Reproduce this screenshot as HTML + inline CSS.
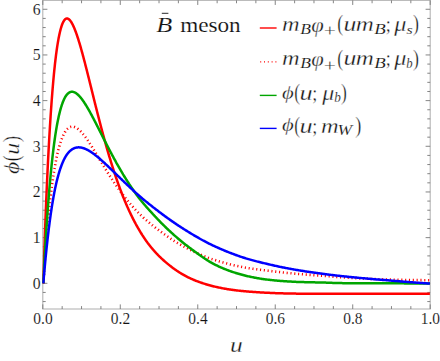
<!DOCTYPE html>
<html><head><meta charset="utf-8"><title>plot</title>
<style>
html,body{margin:0;padding:0;background:#fff;}
body{width:440px;height:361px;overflow:hidden;}
svg{display:block;font-family:"Liberation Serif",serif;}
.tk text{font-size:15.7px;fill:#111;stroke:#fff;stroke-width:0.12px;}
.it{font-style:italic;}
</style></head><body>
<svg width="440" height="361" viewBox="0 0 440 361">
<rect width="440" height="361" fill="#fff"/>
<defs><clipPath id="c"><rect x="42.199999999999996" y="0.35" width="388.5" height="308.65"/></clipPath></defs>

<g stroke="#b4b4b4" stroke-width="1.1" fill="none">
<rect x="42.8" y="0.35" width="387.4" height="308.65"/>
</g>
<g stroke="#777" stroke-width="0.9" fill="none">
<line x1="42.80" y1="309.0" x2="42.80" y2="304.4"/><line x1="42.80" y1="0.35" x2="42.80" y2="4.949999999999999"/><line x1="62.17" y1="309.0" x2="62.17" y2="306.1"/><line x1="62.17" y1="0.35" x2="62.17" y2="3.25"/><line x1="81.54" y1="309.0" x2="81.54" y2="306.1"/><line x1="81.54" y1="0.35" x2="81.54" y2="3.25"/><line x1="100.91" y1="309.0" x2="100.91" y2="306.1"/><line x1="100.91" y1="0.35" x2="100.91" y2="3.25"/><line x1="120.28" y1="309.0" x2="120.28" y2="304.4"/><line x1="120.28" y1="0.35" x2="120.28" y2="4.949999999999999"/><line x1="139.65" y1="309.0" x2="139.65" y2="306.1"/><line x1="139.65" y1="0.35" x2="139.65" y2="3.25"/><line x1="159.02" y1="309.0" x2="159.02" y2="306.1"/><line x1="159.02" y1="0.35" x2="159.02" y2="3.25"/><line x1="178.39" y1="309.0" x2="178.39" y2="306.1"/><line x1="178.39" y1="0.35" x2="178.39" y2="3.25"/><line x1="197.76" y1="309.0" x2="197.76" y2="304.4"/><line x1="197.76" y1="0.35" x2="197.76" y2="4.949999999999999"/><line x1="217.13" y1="309.0" x2="217.13" y2="306.1"/><line x1="217.13" y1="0.35" x2="217.13" y2="3.25"/><line x1="236.50" y1="309.0" x2="236.50" y2="306.1"/><line x1="236.50" y1="0.35" x2="236.50" y2="3.25"/><line x1="255.87" y1="309.0" x2="255.87" y2="306.1"/><line x1="255.87" y1="0.35" x2="255.87" y2="3.25"/><line x1="275.24" y1="309.0" x2="275.24" y2="304.4"/><line x1="275.24" y1="0.35" x2="275.24" y2="4.949999999999999"/><line x1="294.61" y1="309.0" x2="294.61" y2="306.1"/><line x1="294.61" y1="0.35" x2="294.61" y2="3.25"/><line x1="313.98" y1="309.0" x2="313.98" y2="306.1"/><line x1="313.98" y1="0.35" x2="313.98" y2="3.25"/><line x1="333.35" y1="309.0" x2="333.35" y2="306.1"/><line x1="333.35" y1="0.35" x2="333.35" y2="3.25"/><line x1="352.72" y1="309.0" x2="352.72" y2="304.4"/><line x1="352.72" y1="0.35" x2="352.72" y2="4.949999999999999"/><line x1="372.09" y1="309.0" x2="372.09" y2="306.1"/><line x1="372.09" y1="0.35" x2="372.09" y2="3.25"/><line x1="391.46" y1="309.0" x2="391.46" y2="306.1"/><line x1="391.46" y1="0.35" x2="391.46" y2="3.25"/><line x1="410.83" y1="309.0" x2="410.83" y2="306.1"/><line x1="410.83" y1="0.35" x2="410.83" y2="3.25"/><line x1="430.20" y1="309.0" x2="430.20" y2="304.4"/><line x1="430.20" y1="0.35" x2="430.20" y2="4.949999999999999"/><line x1="42.8" y1="301.57" x2="45.699999999999996" y2="301.57"/><line x1="430.2" y1="301.57" x2="427.3" y2="301.57"/><line x1="42.8" y1="292.43" x2="45.699999999999996" y2="292.43"/><line x1="430.2" y1="292.43" x2="427.3" y2="292.43"/><line x1="42.8" y1="283.30" x2="47.4" y2="283.30"/><line x1="430.2" y1="283.30" x2="425.59999999999997" y2="283.30"/><line x1="42.8" y1="274.17" x2="45.699999999999996" y2="274.17"/><line x1="430.2" y1="274.17" x2="427.3" y2="274.17"/><line x1="42.8" y1="265.03" x2="45.699999999999996" y2="265.03"/><line x1="430.2" y1="265.03" x2="427.3" y2="265.03"/><line x1="42.8" y1="255.90" x2="45.699999999999996" y2="255.90"/><line x1="430.2" y1="255.90" x2="427.3" y2="255.90"/><line x1="42.8" y1="246.76" x2="45.699999999999996" y2="246.76"/><line x1="430.2" y1="246.76" x2="427.3" y2="246.76"/><line x1="42.8" y1="237.63" x2="47.4" y2="237.63"/><line x1="430.2" y1="237.63" x2="425.59999999999997" y2="237.63"/><line x1="42.8" y1="228.50" x2="45.699999999999996" y2="228.50"/><line x1="430.2" y1="228.50" x2="427.3" y2="228.50"/><line x1="42.8" y1="219.36" x2="45.699999999999996" y2="219.36"/><line x1="430.2" y1="219.36" x2="427.3" y2="219.36"/><line x1="42.8" y1="210.23" x2="45.699999999999996" y2="210.23"/><line x1="430.2" y1="210.23" x2="427.3" y2="210.23"/><line x1="42.8" y1="201.09" x2="45.699999999999996" y2="201.09"/><line x1="430.2" y1="201.09" x2="427.3" y2="201.09"/><line x1="42.8" y1="191.96" x2="47.4" y2="191.96"/><line x1="430.2" y1="191.96" x2="425.59999999999997" y2="191.96"/><line x1="42.8" y1="182.83" x2="45.699999999999996" y2="182.83"/><line x1="430.2" y1="182.83" x2="427.3" y2="182.83"/><line x1="42.8" y1="173.69" x2="45.699999999999996" y2="173.69"/><line x1="430.2" y1="173.69" x2="427.3" y2="173.69"/><line x1="42.8" y1="164.56" x2="45.699999999999996" y2="164.56"/><line x1="430.2" y1="164.56" x2="427.3" y2="164.56"/><line x1="42.8" y1="155.42" x2="45.699999999999996" y2="155.42"/><line x1="430.2" y1="155.42" x2="427.3" y2="155.42"/><line x1="42.8" y1="146.29" x2="47.4" y2="146.29"/><line x1="430.2" y1="146.29" x2="425.59999999999997" y2="146.29"/><line x1="42.8" y1="137.16" x2="45.699999999999996" y2="137.16"/><line x1="430.2" y1="137.16" x2="427.3" y2="137.16"/><line x1="42.8" y1="128.02" x2="45.699999999999996" y2="128.02"/><line x1="430.2" y1="128.02" x2="427.3" y2="128.02"/><line x1="42.8" y1="118.89" x2="45.699999999999996" y2="118.89"/><line x1="430.2" y1="118.89" x2="427.3" y2="118.89"/><line x1="42.8" y1="109.75" x2="45.699999999999996" y2="109.75"/><line x1="430.2" y1="109.75" x2="427.3" y2="109.75"/><line x1="42.8" y1="100.62" x2="47.4" y2="100.62"/><line x1="430.2" y1="100.62" x2="425.59999999999997" y2="100.62"/><line x1="42.8" y1="91.49" x2="45.699999999999996" y2="91.49"/><line x1="430.2" y1="91.49" x2="427.3" y2="91.49"/><line x1="42.8" y1="82.35" x2="45.699999999999996" y2="82.35"/><line x1="430.2" y1="82.35" x2="427.3" y2="82.35"/><line x1="42.8" y1="73.22" x2="45.699999999999996" y2="73.22"/><line x1="430.2" y1="73.22" x2="427.3" y2="73.22"/><line x1="42.8" y1="64.08" x2="45.699999999999996" y2="64.08"/><line x1="430.2" y1="64.08" x2="427.3" y2="64.08"/><line x1="42.8" y1="54.95" x2="47.4" y2="54.95"/><line x1="430.2" y1="54.95" x2="425.59999999999997" y2="54.95"/><line x1="42.8" y1="45.82" x2="45.699999999999996" y2="45.82"/><line x1="430.2" y1="45.82" x2="427.3" y2="45.82"/><line x1="42.8" y1="36.68" x2="45.699999999999996" y2="36.68"/><line x1="430.2" y1="36.68" x2="427.3" y2="36.68"/><line x1="42.8" y1="27.55" x2="45.699999999999996" y2="27.55"/><line x1="430.2" y1="27.55" x2="427.3" y2="27.55"/><line x1="42.8" y1="18.41" x2="45.699999999999996" y2="18.41"/><line x1="430.2" y1="18.41" x2="427.3" y2="18.41"/><line x1="42.8" y1="9.28" x2="47.4" y2="9.28"/><line x1="430.2" y1="9.28" x2="425.59999999999997" y2="9.28"/>
</g>
<g clip-path="url(#c)" fill="none" stroke-linejoin="round">
<path d="M43.30 283.30 L43.58 274.21 L43.86 265.39 L44.14 256.83 L44.42 248.53 L44.70 240.47 L44.98 232.66 L45.26 225.07 L45.54 217.70 L45.82 210.56 L46.10 203.62 L46.38 196.88 L46.66 190.35 L46.94 184.00 L47.22 177.84 L47.50 171.86 L47.78 166.06 L48.06 160.43 L48.34 154.96 L48.62 149.65 L48.90 144.50 L49.18 139.50 L49.46 134.66 L49.74 129.95 L50.02 125.39 L50.30 120.96 L50.58 116.67 L50.85 112.50 L51.13 108.47 L51.41 104.56 L51.68 100.76 L51.96 97.09 L52.24 93.53 L52.51 90.09 L52.79 86.75 L53.07 83.52 L53.34 80.39 L53.62 77.37 L53.90 74.45 L54.17 71.62 L54.45 68.89 L54.73 66.26 L55.00 63.71 L55.28 61.25 L55.56 58.89 L55.84 56.60 L56.11 54.40 L56.39 52.29 L56.67 50.25 L56.96 48.29 L57.24 46.41 L57.52 44.60 L57.80 42.87 L58.09 41.20 L58.37 39.61 L58.65 38.09 L58.93 36.64 L59.22 35.25 L59.50 33.93 L59.78 32.67 L60.06 31.47 L60.35 30.34 L60.63 29.26 L60.91 28.24 L61.20 27.28 L61.48 26.38 L61.76 25.53 L62.04 24.74 L62.33 24.00 L62.61 23.31 L62.89 22.67 L63.17 22.08 L63.46 21.54 L63.74 21.05 L64.02 20.60 L64.30 20.20 L64.59 19.84 L64.87 19.53 L65.15 19.26 L65.43 19.04 L65.72 18.85 L66.00 18.70 L66.29 18.60 L66.58 18.53 L66.87 18.50 L67.17 18.51 L67.46 18.55 L67.75 18.63 L68.04 18.74 L68.33 18.89 L68.62 19.07 L68.91 19.28 L69.20 19.52 L69.50 19.80 L69.79 20.10 L70.08 20.43 L70.37 20.79 L70.66 21.19 L70.95 21.60 L71.24 22.05 L71.54 22.52 L71.83 23.01 L72.12 23.53 L72.41 24.08 L72.70 24.65 L72.99 25.24 L73.28 25.85 L73.57 26.49 L73.87 27.14 L74.16 27.82 L74.45 28.52 L74.74 29.24 L75.03 29.97 L75.32 30.73 L75.61 31.50 L75.91 32.29 L76.20 33.10 L76.49 33.92 L76.78 34.76 L77.07 35.62 L77.36 36.49 L77.65 37.37 L77.95 38.27 L78.24 39.19 L78.53 40.11 L78.82 41.05 L79.11 42.00 L79.40 42.97 L79.69 43.94 L79.98 44.93 L80.28 45.93 L80.57 46.93 L80.86 47.95 L81.15 48.98 L81.44 50.02 L81.73 51.06 L82.02 52.12 L82.32 53.18 L82.61 54.25 L82.90 55.33 L83.19 56.42 L83.48 57.51 L83.77 58.61 L84.06 59.71 L84.35 60.82 L84.65 61.94 L84.94 63.06 L85.23 64.19 L85.52 65.32 L85.81 66.46 L86.10 67.60 L86.39 68.75 L86.69 69.90 L86.98 71.05 L87.27 72.20 L87.56 73.36 L87.85 74.53 L88.14 75.69 L88.43 76.86 L88.73 78.02 L89.02 79.19 L89.31 80.37 L89.60 81.54 L89.89 82.71 L90.18 83.89 L90.47 85.07 L90.76 86.24 L91.06 87.42 L91.35 88.60 L91.64 89.78 L91.93 90.95 L92.22 92.13 L92.51 93.31 L92.80 94.48 L93.10 95.66 L93.39 96.83 L93.68 98.01 L93.97 99.18 L94.26 100.35 L94.55 101.52 L94.84 102.69 L95.13 103.85 L95.43 105.02 L95.72 106.18 L96.01 107.34 L96.30 108.50 L96.59 109.65 L96.88 110.80 L97.17 111.95 L97.47 113.10 L97.76 114.24 L98.05 115.39 L98.34 116.52 L98.63 117.66 L98.92 118.79 L99.21 119.92 L99.51 121.04 L99.80 122.17 L100.09 123.28 L100.38 124.40 L100.67 125.51 L100.96 126.62 L101.25 127.72 L101.54 128.82 L101.84 129.91 L102.13 131.00 L102.42 132.09 L102.71 133.17 L103.00 134.25 L103.29 135.32 L103.58 136.39 L103.88 137.46 L104.17 138.52 L104.46 139.57 L104.75 140.63 L105.04 141.67 L105.33 142.71 L105.62 143.75 L105.92 144.78 L106.21 145.81 L106.50 146.83 L106.79 147.85 L107.08 148.87 L107.37 149.87 L107.66 150.88 L107.95 151.88 L108.25 152.87 L108.54 153.86 L108.83 154.84 L109.12 155.82 L109.41 156.79 L109.70 157.76 L109.99 158.72 L110.29 159.68 L110.58 160.63 L110.87 161.58 L111.16 162.52 L111.45 163.46 L111.74 164.39 L112.03 165.32 L112.32 166.24 L112.62 167.15 L112.91 168.06 L113.20 168.97 L113.49 169.87 L113.78 170.77 L114.07 171.66 L114.36 172.54 L114.66 173.42 L114.95 174.29 L115.24 175.16 L115.53 176.03 L115.82 176.88 L116.11 177.74 L116.40 178.59 L116.70 179.43 L116.99 180.27 L117.28 181.10 L117.57 181.93 L117.86 182.75 L118.15 183.56 L118.44 184.38 L118.73 185.18 L119.03 185.98 L119.32 186.78 L119.61 187.57 L119.90 188.36 L120.19 189.14 L120.48 189.91 L120.77 190.68 L121.07 191.45 L121.36 192.21 L121.65 192.97 L121.94 193.72 L122.23 194.46 L122.52 195.20 L122.81 195.94 L123.10 196.67 L123.40 197.40 L123.69 198.12 L123.98 198.83 L124.27 199.54 L124.56 200.25 L124.85 200.95 L125.14 201.65 L125.44 202.34 L125.73 203.03 L126.02 203.71 L126.31 204.39 L126.60 205.06 L126.89 205.73 L127.18 206.40 L127.48 207.05 L127.77 207.71 L128.06 208.36 L128.35 209.01 L128.64 209.65 L128.93 210.28 L129.22 210.92 L129.51 211.54 L129.81 212.17 L130.10 212.79 L130.39 213.40 L130.68 214.01 L130.97 214.62 L131.26 215.22 L131.55 215.81 L131.85 216.41 L132.14 217.00 L132.43 217.58 L132.72 218.16 L133.01 218.74 L133.30 219.31 L133.59 219.88 L133.88 220.44 L134.18 221.00 L134.47 221.56 L134.76 222.11 L135.05 222.66 L135.34 223.20 L135.63 223.74 L135.92 224.28 L136.22 224.81 L136.51 225.34 L136.80 225.86 L137.09 226.38 L137.38 226.90 L137.67 227.41 L137.96 227.92 L138.26 228.42 L138.55 228.93 L138.84 229.42 L139.13 229.92 L139.42 230.41 L139.71 230.90 L140.00 231.38 L140.29 231.86 L140.59 232.34 L140.88 232.81 L141.17 233.28 L141.46 233.75 L141.75 234.21 L142.04 234.67 L142.33 235.13 L142.63 235.58 L142.92 236.03 L143.21 236.47 L143.50 236.92 L143.79 237.36 L144.08 237.79 L144.37 238.22 L144.67 238.65 L144.96 239.08 L145.25 239.50 L145.54 239.92 L145.83 240.34 L146.12 240.75 L146.41 241.16 L146.70 241.57 L147.00 241.97 L147.29 242.37 L147.58 242.76 L147.87 243.16 L148.16 243.54 L148.45 243.93 L148.74 244.31 L149.04 244.69 L149.33 245.07 L149.62 245.44 L149.91 245.81 L150.20 246.18 L150.49 246.54 L150.78 246.90 L151.07 247.26 L151.37 247.61 L151.66 247.97 L151.95 248.32 L152.24 248.66 L152.53 249.01 L152.82 249.35 L153.11 249.69 L153.41 250.02 L153.70 250.35 L153.99 250.68 L154.28 251.01 L154.57 251.34 L154.86 251.66 L155.15 251.98 L155.45 252.30 L155.74 252.61 L156.03 252.93 L156.32 253.24 L156.61 253.55 L156.90 253.85 L157.19 254.16 L157.48 254.46 L157.78 254.76 L158.07 255.06 L158.36 255.35 L158.65 255.65 L159.56 256.55 L160.46 257.43 L161.37 258.29 L162.28 259.14 L163.19 259.97 L164.09 260.79 L165.00 261.59 L165.91 262.38 L166.81 263.15 L167.72 263.91 L168.63 264.65 L169.54 265.38 L170.44 266.10 L171.35 266.80 L172.26 267.48 L173.17 268.16 L174.07 268.81 L174.98 269.46 L175.89 270.09 L176.79 270.71 L177.70 271.31 L178.61 271.91 L179.52 272.48 L180.42 273.05 L181.33 273.60 L182.24 274.14 L183.14 274.66 L184.05 275.18 L184.96 275.68 L185.87 276.16 L186.77 276.64 L187.68 277.10 L188.59 277.54 L189.49 277.98 L190.40 278.40 L191.31 278.81 L192.22 279.21 L193.12 279.60 L194.03 279.99 L194.94 280.36 L195.84 280.73 L196.75 281.08 L197.66 281.43 L198.57 281.77 L199.47 282.10 L200.38 282.43 L201.29 282.74 L202.20 283.05 L203.10 283.35 L204.01 283.65 L204.92 283.93 L205.82 284.21 L206.73 284.48 L207.64 284.75 L208.55 285.01 L209.45 285.26 L210.36 285.51 L211.27 285.75 L212.17 285.98 L213.08 286.21 L213.99 286.43 L214.90 286.65 L215.80 286.86 L216.71 287.07 L217.62 287.27 L218.52 287.46 L219.43 287.65 L220.34 287.84 L221.25 288.02 L222.15 288.19 L223.06 288.36 L223.97 288.53 L224.87 288.69 L225.78 288.85 L226.69 289.00 L227.60 289.15 L228.50 289.29 L229.41 289.43 L230.32 289.57 L231.23 289.70 L232.13 289.83 L233.04 289.96 L233.95 290.08 L234.85 290.20 L235.76 290.31 L236.67 290.42 L237.58 290.53 L238.48 290.63 L239.39 290.74 L240.30 290.83 L241.20 290.93 L242.11 291.02 L243.02 291.11 L243.93 291.20 L244.83 291.28 L245.74 291.36 L246.65 291.44 L247.55 291.52 L248.46 291.59 L249.37 291.66 L250.28 291.73 L251.18 291.80 L252.09 291.87 L253.00 291.93 L253.91 291.99 L254.81 292.05 L255.72 292.11 L256.63 292.17 L257.53 292.23 L258.44 292.29 L259.35 292.34 L260.26 292.39 L261.16 292.45 L262.07 292.50 L262.98 292.55 L263.88 292.60 L264.79 292.64 L265.70 292.69 L266.61 292.74 L267.51 292.78 L268.42 292.82 L269.33 292.86 L270.23 292.90 L271.14 292.94 L272.05 292.98 L272.96 293.02 L273.86 293.06 L274.77 293.09 L275.68 293.13 L276.58 293.16 L277.49 293.19 L278.40 293.22 L279.31 293.25 L280.21 293.28 L281.12 293.31 L282.03 293.34 L282.94 293.36 L283.84 293.39 L284.75 293.41 L285.66 293.43 L286.56 293.46 L287.47 293.48 L288.38 293.50 L289.29 293.52 L290.19 293.53 L291.10 293.55 L292.01 293.57 L292.91 293.58 L293.82 293.59 L294.73 293.61 L295.64 293.62 L296.54 293.63 L297.45 293.64 L298.36 293.64 L299.26 293.65 L300.17 293.66 L301.08 293.66 L301.99 293.67 L302.89 293.67 L303.80 293.68 L304.71 293.68 L305.61 293.68 L306.52 293.68 L307.43 293.69 L308.34 293.69 L309.24 293.69 L310.15 293.69 L311.06 293.69 L311.97 293.69 L312.87 293.69 L313.78 293.69 L314.69 293.69 L315.59 293.69 L316.50 293.69 L317.41 293.69 L318.32 293.69 L319.22 293.69 L320.13 293.69 L321.04 293.69 L321.94 293.68 L322.85 293.68 L323.76 293.68 L324.67 293.68 L325.57 293.68 L326.48 293.68 L327.39 293.68 L328.29 293.67 L329.20 293.67 L330.11 293.67 L331.02 293.67 L331.92 293.67 L332.83 293.67 L333.74 293.67 L334.64 293.66 L335.55 293.66 L336.46 293.66 L337.37 293.66 L338.27 293.66 L339.18 293.66 L340.09 293.66 L341.00 293.66 L341.90 293.66 L342.81 293.66 L343.72 293.66 L344.62 293.66 L345.53 293.66 L346.44 293.66 L347.35 293.66 L348.25 293.66 L349.16 293.66 L350.07 293.66 L350.97 293.65 L351.88 293.65 L352.79 293.65 L353.70 293.65 L354.60 293.65 L355.51 293.65 L356.42 293.65 L357.32 293.65 L358.23 293.65 L359.14 293.65 L360.05 293.65 L360.95 293.65 L361.86 293.65 L362.77 293.65 L363.68 293.65 L364.58 293.65 L365.49 293.65 L366.40 293.65 L367.30 293.65 L368.21 293.66 L369.12 293.66 L370.03 293.66 L370.93 293.66 L371.84 293.66 L372.75 293.66 L373.65 293.66 L374.56 293.66 L375.47 293.66 L376.38 293.67 L377.28 293.67 L378.19 293.67 L379.10 293.67 L380.00 293.67 L380.91 293.67 L381.82 293.68 L382.73 293.68 L383.63 293.68 L384.54 293.68 L385.45 293.68 L386.35 293.68 L387.26 293.68 L388.17 293.68 L389.08 293.68 L389.98 293.69 L390.89 293.69 L391.80 293.69 L392.71 293.69 L393.61 293.68 L394.52 293.68 L395.43 293.68 L396.33 293.68 L397.24 293.68 L398.15 293.68 L399.06 293.68 L399.96 293.68 L400.87 293.67 L401.78 293.67 L402.68 293.67 L403.59 293.67 L404.50 293.67 L405.41 293.67 L406.31 293.67 L407.22 293.67 L408.13 293.68 L409.03 293.68 L409.94 293.68 L410.85 293.68 L411.76 293.68 L412.66 293.69 L413.57 293.69 L414.48 293.69 L415.38 293.69 L416.29 293.69 L417.20 293.69 L418.11 293.69 L419.01 293.69 L419.92 293.69 L420.83 293.69 L421.74 293.69 L422.64 293.69 L423.55 293.69 L424.46 293.69 L425.36 293.68 L426.27 293.68 L427.18 293.68 L428.09 293.68 L428.99 293.68 L429.90 293.68" stroke="#ff0000" stroke-width="2.5"/>
<path d="M43.30 283.30 L43.58 278.77 L43.86 274.36 L44.14 270.07 L44.42 265.89 L44.70 261.83 L44.98 257.87 L45.26 254.02 L45.54 250.26 L45.82 246.60 L46.10 243.04 L46.38 239.57 L46.66 236.18 L46.94 232.88 L47.22 229.67 L47.50 226.53 L47.78 223.48 L48.06 220.50 L48.34 217.59 L48.62 214.76 L48.90 211.99 L49.18 209.30 L49.46 206.67 L49.74 204.10 L50.02 201.60 L50.30 199.16 L50.58 196.78 L50.85 194.46 L51.13 192.20 L51.41 189.99 L51.68 187.83 L51.96 185.73 L52.24 183.69 L52.51 181.69 L52.79 179.74 L53.07 177.85 L53.34 176.00 L53.62 174.20 L53.90 172.44 L54.17 170.73 L54.45 169.06 L54.73 167.44 L55.00 165.86 L55.28 164.32 L55.56 162.82 L55.84 161.36 L56.11 159.94 L56.39 158.57 L56.67 157.22 L56.96 155.92 L57.24 154.65 L57.52 153.42 L57.80 152.22 L58.09 151.06 L58.37 149.93 L58.65 148.84 L58.93 147.78 L59.22 146.75 L59.50 145.76 L59.78 144.79 L60.06 143.86 L60.35 142.95 L60.63 142.08 L60.91 141.23 L61.20 140.42 L61.48 139.63 L61.76 138.87 L62.04 138.14 L62.33 137.43 L62.61 136.76 L62.89 136.10 L63.17 135.48 L63.46 134.87 L63.74 134.30 L64.02 133.75 L64.30 133.22 L64.59 132.71 L64.87 132.23 L65.15 131.77 L65.43 131.33 L65.72 130.92 L66.00 130.53 L66.29 130.15 L66.58 129.80 L66.87 129.47 L67.17 129.16 L67.46 128.87 L67.75 128.60 L68.04 128.35 L68.33 128.11 L68.62 127.90 L68.91 127.70 L69.20 127.52 L69.50 127.36 L69.79 127.22 L70.08 127.09 L70.37 126.98 L70.66 126.88 L70.95 126.80 L71.24 126.74 L71.54 126.69 L71.83 126.66 L72.12 126.64 L72.41 126.63 L72.70 126.64 L72.99 126.66 L73.28 126.70 L73.57 126.75 L73.87 126.81 L74.16 126.89 L74.45 126.98 L74.74 127.08 L75.03 127.19 L75.32 127.31 L75.61 127.45 L75.91 127.60 L76.20 127.75 L76.49 127.92 L76.78 128.10 L77.07 128.29 L77.36 128.49 L77.65 128.70 L77.95 128.91 L78.24 129.14 L78.53 129.38 L78.82 129.62 L79.11 129.88 L79.40 130.14 L79.69 130.41 L79.98 130.69 L80.28 130.97 L80.57 131.27 L80.86 131.57 L81.15 131.88 L81.44 132.19 L81.73 132.51 L82.02 132.84 L82.32 133.18 L82.61 133.52 L82.90 133.87 L83.19 134.22 L83.48 134.58 L83.77 134.94 L84.06 135.32 L84.35 135.69 L84.65 136.07 L84.94 136.46 L85.23 136.85 L85.52 137.24 L85.81 137.64 L86.10 138.05 L86.39 138.46 L86.69 138.87 L86.98 139.28 L87.27 139.70 L87.56 140.13 L87.85 140.55 L88.14 140.99 L88.43 141.42 L88.73 141.86 L89.02 142.30 L89.31 142.74 L89.60 143.18 L89.89 143.63 L90.18 144.08 L90.47 144.54 L90.76 144.99 L91.06 145.45 L91.35 145.91 L91.64 146.37 L91.93 146.83 L92.22 147.30 L92.51 147.77 L92.80 148.24 L93.10 148.71 L93.39 149.18 L93.68 149.65 L93.97 150.13 L94.26 150.60 L94.55 151.08 L94.84 151.55 L95.13 152.03 L95.43 152.51 L95.72 152.99 L96.01 153.47 L96.30 153.95 L96.59 154.44 L96.88 154.92 L97.17 155.40 L97.47 155.88 L97.76 156.37 L98.05 156.85 L98.34 157.33 L98.63 157.82 L98.92 158.30 L99.21 158.78 L99.51 159.27 L99.80 159.75 L100.09 160.23 L100.38 160.71 L100.67 161.20 L100.96 161.68 L101.25 162.16 L101.54 162.64 L101.84 163.12 L102.13 163.60 L102.42 164.08 L102.71 164.56 L103.00 165.04 L103.29 165.52 L103.58 165.99 L103.88 166.47 L104.17 166.94 L104.46 167.42 L104.75 167.89 L105.04 168.36 L105.33 168.83 L105.62 169.30 L105.92 169.77 L106.21 170.24 L106.50 170.71 L106.79 171.18 L107.08 171.64 L107.37 172.10 L107.66 172.57 L107.95 173.03 L108.25 173.49 L108.54 173.95 L108.83 174.40 L109.12 174.86 L109.41 175.32 L109.70 175.77 L109.99 176.22 L110.29 176.67 L110.58 177.12 L110.87 177.57 L111.16 178.02 L111.45 178.46 L111.74 178.90 L112.03 179.35 L112.32 179.79 L112.62 180.23 L112.91 180.66 L113.20 181.10 L113.49 181.54 L113.78 181.97 L114.07 182.40 L114.36 182.83 L114.66 183.26 L114.95 183.69 L115.24 184.11 L115.53 184.54 L115.82 184.96 L116.11 185.38 L116.40 185.80 L116.70 186.21 L116.99 186.63 L117.28 187.04 L117.57 187.46 L117.86 187.87 L118.15 188.28 L118.44 188.68 L118.73 189.09 L119.03 189.49 L119.32 189.90 L119.61 190.30 L119.90 190.70 L120.19 191.10 L120.48 191.49 L120.77 191.89 L121.07 192.28 L121.36 192.67 L121.65 193.06 L121.94 193.45 L122.23 193.83 L122.52 194.22 L122.81 194.60 L123.10 194.98 L123.40 195.36 L123.69 195.74 L123.98 196.12 L124.27 196.49 L124.56 196.87 L124.85 197.24 L125.14 197.61 L125.44 197.98 L125.73 198.34 L126.02 198.71 L126.31 199.07 L126.60 199.44 L126.89 199.80 L127.18 200.16 L127.48 200.51 L127.77 200.87 L128.06 201.22 L128.35 201.58 L128.64 201.93 L128.93 202.28 L129.22 202.62 L129.51 202.97 L129.81 203.32 L130.10 203.66 L130.39 204.00 L130.68 204.34 L130.97 204.68 L131.26 205.02 L131.55 205.35 L131.85 205.69 L132.14 206.02 L132.43 206.35 L132.72 206.68 L133.01 207.01 L133.30 207.34 L133.59 207.66 L133.88 207.99 L134.18 208.31 L134.47 208.63 L134.76 208.95 L135.05 209.27 L135.34 209.58 L135.63 209.90 L135.92 210.21 L136.22 210.52 L136.51 210.83 L136.80 211.14 L137.09 211.44 L137.38 211.74 L137.67 212.04 L137.96 212.34 L138.26 212.64 L138.55 212.93 L138.84 213.23 L139.13 213.52 L139.42 213.81 L139.71 214.10 L140.00 214.38 L140.29 214.67 L140.59 214.95 L140.88 215.23 L141.17 215.51 L141.46 215.79 L141.75 216.07 L142.04 216.34 L142.33 216.61 L142.63 216.89 L142.92 217.16 L143.21 217.43 L143.50 217.69 L143.79 217.96 L144.08 218.22 L144.37 218.49 L144.67 218.75 L144.96 219.01 L145.25 219.27 L145.54 219.53 L145.83 219.78 L146.12 220.04 L146.41 220.29 L146.70 220.54 L147.00 220.80 L147.29 221.05 L147.58 221.29 L147.87 221.54 L148.16 221.79 L148.45 222.04 L148.74 222.28 L149.04 222.52 L149.33 222.77 L149.62 223.01 L149.91 223.25 L150.20 223.49 L150.49 223.73 L150.78 223.96 L151.07 224.20 L151.37 224.44 L151.66 224.67 L151.95 224.91 L152.24 225.14 L152.53 225.37 L152.82 225.60 L153.11 225.84 L153.41 226.07 L153.70 226.30 L153.99 226.52 L154.28 226.75 L154.57 226.98 L154.86 227.21 L155.15 227.43 L155.45 227.66 L155.74 227.88 L156.03 228.11 L156.32 228.33 L156.61 228.56 L156.90 228.78 L157.19 229.00 L157.48 229.22 L157.78 229.45 L158.07 229.67 L158.36 229.89 L158.65 230.11 L159.56 230.79 L160.46 231.47 L161.37 232.14 L162.28 232.81 L163.19 233.47 L164.09 234.12 L165.00 234.76 L165.91 235.40 L166.81 236.03 L167.72 236.65 L168.63 237.26 L169.54 237.87 L170.44 238.47 L171.35 239.06 L172.26 239.65 L173.17 240.23 L174.07 240.80 L174.98 241.36 L175.89 241.92 L176.79 242.47 L177.70 243.01 L178.61 243.55 L179.52 244.08 L180.42 244.60 L181.33 245.12 L182.24 245.63 L183.14 246.13 L184.05 246.63 L184.96 247.11 L185.87 247.60 L186.77 248.08 L187.68 248.55 L188.59 249.02 L189.49 249.48 L190.40 249.94 L191.31 250.39 L192.22 250.84 L193.12 251.28 L194.03 251.72 L194.94 252.15 L195.84 252.58 L196.75 253.00 L197.66 253.41 L198.57 253.82 L199.47 254.22 L200.38 254.61 L201.29 255.00 L202.20 255.39 L203.10 255.76 L204.01 256.13 L204.92 256.49 L205.82 256.85 L206.73 257.19 L207.64 257.53 L208.55 257.87 L209.45 258.19 L210.36 258.51 L211.27 258.82 L212.17 259.13 L213.08 259.43 L213.99 259.73 L214.90 260.03 L215.80 260.32 L216.71 260.60 L217.62 260.88 L218.52 261.16 L219.43 261.43 L220.34 261.70 L221.25 261.97 L222.15 262.23 L223.06 262.48 L223.97 262.73 L224.87 262.98 L225.78 263.23 L226.69 263.47 L227.60 263.71 L228.50 263.94 L229.41 264.17 L230.32 264.40 L231.23 264.62 L232.13 264.84 L233.04 265.06 L233.95 265.27 L234.85 265.48 L235.76 265.68 L236.67 265.89 L237.58 266.09 L238.48 266.28 L239.39 266.48 L240.30 266.67 L241.20 266.85 L242.11 267.03 L243.02 267.21 L243.93 267.38 L244.83 267.54 L245.74 267.70 L246.65 267.85 L247.55 268.00 L248.46 268.15 L249.37 268.29 L250.28 268.42 L251.18 268.56 L252.09 268.69 L253.00 268.82 L253.91 268.94 L254.81 269.06 L255.72 269.18 L256.63 269.30 L257.53 269.42 L258.44 269.53 L259.35 269.65 L260.26 269.76 L261.16 269.87 L262.07 269.98 L262.98 270.09 L263.88 270.20 L264.79 270.31 L265.70 270.42 L266.61 270.53 L267.51 270.65 L268.42 270.76 L269.33 270.87 L270.23 270.99 L271.14 271.10 L272.05 271.22 L272.96 271.33 L273.86 271.44 L274.77 271.55 L275.68 271.66 L276.58 271.76 L277.49 271.87 L278.40 271.97 L279.31 272.07 L280.21 272.17 L281.12 272.27 L282.03 272.37 L282.94 272.47 L283.84 272.56 L284.75 272.66 L285.66 272.75 L286.56 272.84 L287.47 272.93 L288.38 273.02 L289.29 273.11 L290.19 273.20 L291.10 273.28 L292.01 273.37 L292.91 273.45 L293.82 273.54 L294.73 273.62 L295.64 273.70 L296.54 273.78 L297.45 273.86 L298.36 273.94 L299.26 274.02 L300.17 274.10 L301.08 274.17 L301.99 274.25 L302.89 274.32 L303.80 274.40 L304.71 274.47 L305.61 274.54 L306.52 274.61 L307.43 274.68 L308.34 274.75 L309.24 274.82 L310.15 274.89 L311.06 274.96 L311.97 275.03 L312.87 275.09 L313.78 275.16 L314.69 275.22 L315.59 275.29 L316.50 275.35 L317.41 275.42 L318.32 275.48 L319.22 275.54 L320.13 275.60 L321.04 275.67 L321.94 275.73 L322.85 275.80 L323.76 275.87 L324.67 275.94 L325.57 276.01 L326.48 276.08 L327.39 276.15 L328.29 276.23 L329.20 276.30 L330.11 276.37 L331.02 276.45 L331.92 276.52 L332.83 276.59 L333.74 276.66 L334.64 276.74 L335.55 276.81 L336.46 276.87 L337.37 276.94 L338.27 277.01 L339.18 277.07 L340.09 277.13 L341.00 277.19 L341.90 277.25 L342.81 277.31 L343.72 277.37 L344.62 277.43 L345.53 277.49 L346.44 277.54 L347.35 277.60 L348.25 277.66 L349.16 277.71 L350.07 277.77 L350.97 277.82 L351.88 277.88 L352.79 277.93 L353.70 277.99 L354.60 278.04 L355.51 278.09 L356.42 278.14 L357.32 278.19 L358.23 278.25 L359.14 278.30 L360.05 278.35 L360.95 278.39 L361.86 278.44 L362.77 278.49 L363.68 278.54 L364.58 278.58 L365.49 278.63 L366.40 278.67 L367.30 278.72 L368.21 278.76 L369.12 278.80 L370.03 278.85 L370.93 278.89 L371.84 278.93 L372.75 278.97 L373.65 279.01 L374.56 279.04 L375.47 279.08 L376.38 279.12 L377.28 279.15 L378.19 279.19 L379.10 279.22 L380.00 279.25 L380.91 279.28 L381.82 279.32 L382.73 279.35 L383.63 279.38 L384.54 279.41 L385.45 279.44 L386.35 279.47 L387.26 279.49 L388.17 279.52 L389.08 279.55 L389.98 279.58 L390.89 279.60 L391.80 279.63 L392.71 279.65 L393.61 279.68 L394.52 279.70 L395.43 279.73 L396.33 279.75 L397.24 279.77 L398.15 279.80 L399.06 279.82 L399.96 279.84 L400.87 279.86 L401.78 279.88 L402.68 279.90 L403.59 279.92 L404.50 279.93 L405.41 279.95 L406.31 279.97 L407.22 279.99 L408.13 280.00 L409.03 280.02 L409.94 280.03 L410.85 280.05 L411.76 280.06 L412.66 280.07 L413.57 280.08 L414.48 280.10 L415.38 280.11 L416.29 280.12 L417.20 280.13 L418.11 280.14 L419.01 280.14 L419.92 280.15 L420.83 280.16 L421.74 280.17 L422.64 280.17 L423.55 280.18 L424.46 280.18 L425.36 280.18 L426.27 280.19 L427.18 280.19 L428.09 280.19 L428.99 280.19 L429.90 280.19" stroke="#ff0000" stroke-width="2.6" stroke-dasharray="1.1 2.73"/>
<path d="M43.30 283.30 L43.58 277.77 L43.86 272.38 L44.14 267.11 L44.42 261.97 L44.70 256.95 L44.98 252.05 L45.26 247.27 L45.54 242.60 L45.82 238.04 L46.10 233.60 L46.38 229.26 L46.66 225.02 L46.94 220.89 L47.22 216.86 L47.50 212.93 L47.78 209.09 L48.06 205.35 L48.34 201.70 L48.62 198.14 L48.90 194.67 L49.18 191.28 L49.46 187.98 L49.74 184.76 L50.02 181.63 L50.30 178.57 L50.58 175.59 L50.85 172.69 L51.13 169.86 L51.41 167.11 L51.68 164.42 L51.96 161.81 L52.24 159.27 L52.51 156.79 L52.79 154.38 L53.07 152.03 L53.34 149.75 L53.62 147.53 L53.90 145.37 L54.17 143.27 L54.45 141.23 L54.73 139.24 L55.00 137.32 L55.28 135.44 L55.56 133.62 L55.84 131.85 L56.11 130.14 L56.39 128.47 L56.67 126.86 L56.96 125.29 L57.24 123.77 L57.52 122.30 L57.80 120.87 L58.09 119.49 L58.37 118.15 L58.65 116.85 L58.93 115.60 L59.22 114.39 L59.50 113.21 L59.78 112.08 L60.06 110.99 L60.35 109.94 L60.63 108.92 L60.91 107.94 L61.20 106.99 L61.48 106.08 L61.76 105.21 L62.04 104.37 L62.33 103.56 L62.61 102.78 L62.89 102.04 L63.17 101.33 L63.46 100.65 L63.74 100.00 L64.02 99.37 L64.30 98.78 L64.59 98.21 L64.87 97.68 L65.15 97.17 L65.43 96.68 L65.72 96.22 L66.00 95.79 L66.29 95.38 L66.58 95.00 L66.87 94.64 L67.17 94.31 L67.46 93.99 L67.75 93.71 L68.04 93.44 L68.33 93.19 L68.62 92.97 L68.91 92.76 L69.20 92.58 L69.50 92.42 L69.79 92.27 L70.08 92.15 L70.37 92.04 L70.66 91.95 L70.95 91.88 L71.24 91.83 L71.54 91.80 L71.83 91.78 L72.12 91.78 L72.41 91.79 L72.70 91.82 L72.99 91.87 L73.28 91.93 L73.57 92.00 L73.87 92.09 L74.16 92.20 L74.45 92.31 L74.74 92.45 L75.03 92.59 L75.32 92.75 L75.61 92.92 L75.91 93.10 L76.20 93.30 L76.49 93.50 L76.78 93.72 L77.07 93.95 L77.36 94.19 L77.65 94.45 L77.95 94.71 L78.24 94.98 L78.53 95.26 L78.82 95.55 L79.11 95.86 L79.40 96.17 L79.69 96.49 L79.98 96.82 L80.28 97.16 L80.57 97.50 L80.86 97.86 L81.15 98.22 L81.44 98.59 L81.73 98.97 L82.02 99.36 L82.32 99.75 L82.61 100.15 L82.90 100.56 L83.19 100.97 L83.48 101.39 L83.77 101.82 L84.06 102.25 L84.35 102.69 L84.65 103.13 L84.94 103.58 L85.23 104.04 L85.52 104.50 L85.81 104.97 L86.10 105.44 L86.39 105.92 L86.69 106.40 L86.98 106.88 L87.27 107.37 L87.56 107.87 L87.85 108.36 L88.14 108.87 L88.43 109.37 L88.73 109.88 L89.02 110.40 L89.31 110.92 L89.60 111.44 L89.89 111.96 L90.18 112.49 L90.47 113.02 L90.76 113.55 L91.06 114.09 L91.35 114.63 L91.64 115.17 L91.93 115.71 L92.22 116.26 L92.51 116.81 L92.80 117.36 L93.10 117.91 L93.39 118.46 L93.68 119.02 L93.97 119.58 L94.26 120.14 L94.55 120.70 L94.84 121.26 L95.13 121.83 L95.43 122.39 L95.72 122.96 L96.01 123.53 L96.30 124.10 L96.59 124.67 L96.88 125.24 L97.17 125.81 L97.47 126.39 L97.76 126.96 L98.05 127.53 L98.34 128.11 L98.63 128.68 L98.92 129.26 L99.21 129.84 L99.51 130.41 L99.80 130.99 L100.09 131.57 L100.38 132.14 L100.67 132.72 L100.96 133.30 L101.25 133.87 L101.54 134.45 L101.84 135.03 L102.13 135.60 L102.42 136.18 L102.71 136.76 L103.00 137.33 L103.29 137.91 L103.58 138.48 L103.88 139.06 L104.17 139.63 L104.46 140.21 L104.75 140.78 L105.04 141.35 L105.33 141.92 L105.62 142.49 L105.92 143.06 L106.21 143.63 L106.50 144.20 L106.79 144.77 L107.08 145.33 L107.37 145.90 L107.66 146.46 L107.95 147.02 L108.25 147.59 L108.54 148.15 L108.83 148.71 L109.12 149.27 L109.41 149.82 L109.70 150.38 L109.99 150.94 L110.29 151.49 L110.58 152.04 L110.87 152.59 L111.16 153.14 L111.45 153.69 L111.74 154.24 L112.03 154.79 L112.32 155.33 L112.62 155.87 L112.91 156.42 L113.20 156.96 L113.49 157.50 L113.78 158.03 L114.07 158.57 L114.36 159.10 L114.66 159.63 L114.95 160.17 L115.24 160.70 L115.53 161.22 L115.82 161.75 L116.11 162.27 L116.40 162.80 L116.70 163.32 L116.99 163.84 L117.28 164.36 L117.57 164.87 L117.86 165.39 L118.15 165.90 L118.44 166.41 L118.73 166.92 L119.03 167.43 L119.32 167.94 L119.61 168.44 L119.90 168.94 L120.19 169.44 L120.48 169.94 L120.77 170.44 L121.07 170.94 L121.36 171.43 L121.65 171.92 L121.94 172.41 L122.23 172.90 L122.52 173.39 L122.81 173.87 L123.10 174.36 L123.40 174.84 L123.69 175.32 L123.98 175.80 L124.27 176.27 L124.56 176.75 L124.85 177.22 L125.14 177.69 L125.44 178.16 L125.73 178.63 L126.02 179.09 L126.31 179.55 L126.60 180.02 L126.89 180.48 L127.18 180.93 L127.48 181.39 L127.77 181.85 L128.06 182.30 L128.35 182.75 L128.64 183.20 L128.93 183.65 L129.22 184.09 L129.51 184.54 L129.81 184.98 L130.10 185.42 L130.39 185.86 L130.68 186.30 L130.97 186.73 L131.26 187.17 L131.55 187.60 L131.85 188.03 L132.14 188.46 L132.43 188.88 L132.72 189.31 L133.01 189.73 L133.30 190.15 L133.59 190.57 L133.88 190.99 L134.18 191.41 L134.47 191.83 L134.76 192.24 L135.05 192.65 L135.34 193.06 L135.63 193.47 L135.92 193.87 L136.22 194.27 L136.51 194.67 L136.80 195.06 L137.09 195.46 L137.38 195.85 L137.67 196.23 L137.96 196.62 L138.26 197.00 L138.55 197.38 L138.84 197.76 L139.13 198.14 L139.42 198.51 L139.71 198.88 L140.00 199.25 L140.29 199.61 L140.59 199.98 L140.88 200.34 L141.17 200.70 L141.46 201.06 L141.75 201.42 L142.04 201.77 L142.33 202.12 L142.63 202.47 L142.92 202.82 L143.21 203.17 L143.50 203.52 L143.79 203.86 L144.08 204.20 L144.37 204.54 L144.67 204.88 L144.96 205.22 L145.25 205.56 L145.54 205.89 L145.83 206.23 L146.12 206.56 L146.41 206.89 L146.70 207.22 L147.00 207.55 L147.29 207.88 L147.58 208.21 L147.87 208.53 L148.16 208.86 L148.45 209.18 L148.74 209.51 L149.04 209.83 L149.33 210.15 L149.62 210.47 L149.91 210.79 L150.20 211.11 L150.49 211.43 L150.78 211.75 L151.07 212.07 L151.37 212.39 L151.66 212.70 L151.95 213.02 L152.24 213.34 L152.53 213.65 L152.82 213.97 L153.11 214.29 L153.41 214.60 L153.70 214.92 L153.99 215.23 L154.28 215.55 L154.57 215.86 L154.86 216.18 L155.15 216.50 L155.45 216.81 L155.74 217.13 L156.03 217.44 L156.32 217.75 L156.61 218.06 L156.90 218.37 L157.19 218.68 L157.48 218.99 L157.78 219.30 L158.07 219.60 L158.36 219.91 L158.65 220.21 L159.56 221.15 L160.46 222.09 L161.37 223.01 L162.28 223.93 L163.19 224.83 L164.09 225.73 L165.00 226.62 L165.91 227.50 L166.81 228.37 L167.72 229.24 L168.63 230.09 L169.54 230.94 L170.44 231.78 L171.35 232.61 L172.26 233.44 L173.17 234.25 L174.07 235.06 L174.98 235.86 L175.89 236.65 L176.79 237.43 L177.70 238.21 L178.61 238.98 L179.52 239.74 L180.42 240.50 L181.33 241.25 L182.24 241.99 L183.14 242.73 L184.05 243.45 L184.96 244.18 L185.87 244.89 L186.77 245.60 L187.68 246.30 L188.59 247.00 L189.49 247.69 L190.40 248.37 L191.31 249.05 L192.22 249.72 L193.12 250.38 L194.03 251.04 L194.94 251.69 L195.84 252.34 L196.75 252.99 L197.66 253.64 L198.57 254.29 L199.47 254.93 L200.38 255.57 L201.29 256.21 L202.20 256.84 L203.10 257.47 L204.01 258.08 L204.92 258.69 L205.82 259.29 L206.73 259.88 L207.64 260.46 L208.55 261.03 L209.45 261.58 L210.36 262.12 L211.27 262.64 L212.17 263.15 L213.08 263.64 L213.99 264.11 L214.90 264.58 L215.80 265.03 L216.71 265.48 L217.62 265.92 L218.52 266.34 L219.43 266.76 L220.34 267.17 L221.25 267.57 L222.15 267.96 L223.06 268.35 L223.97 268.72 L224.87 269.09 L225.78 269.45 L226.69 269.80 L227.60 270.15 L228.50 270.49 L229.41 270.82 L230.32 271.14 L231.23 271.46 L232.13 271.78 L233.04 272.08 L233.95 272.39 L234.85 272.68 L235.76 272.97 L236.67 273.26 L237.58 273.54 L238.48 273.81 L239.39 274.07 L240.30 274.32 L241.20 274.57 L242.11 274.82 L243.02 275.06 L243.93 275.29 L244.83 275.51 L245.74 275.73 L246.65 275.95 L247.55 276.16 L248.46 276.36 L249.37 276.56 L250.28 276.76 L251.18 276.95 L252.09 277.13 L253.00 277.31 L253.91 277.49 L254.81 277.67 L255.72 277.84 L256.63 278.00 L257.53 278.16 L258.44 278.31 L259.35 278.46 L260.26 278.61 L261.16 278.75 L262.07 278.89 L262.98 279.02 L263.88 279.15 L264.79 279.27 L265.70 279.39 L266.61 279.51 L267.51 279.62 L268.42 279.73 L269.33 279.83 L270.23 279.94 L271.14 280.04 L272.05 280.13 L272.96 280.23 L273.86 280.32 L274.77 280.41 L275.68 280.49 L276.58 280.58 L277.49 280.66 L278.40 280.74 L279.31 280.82 L280.21 280.90 L281.12 280.97 L282.03 281.04 L282.94 281.11 L283.84 281.18 L284.75 281.24 L285.66 281.30 L286.56 281.36 L287.47 281.42 L288.38 281.47 L289.29 281.53 L290.19 281.58 L291.10 281.62 L292.01 281.67 L292.91 281.72 L293.82 281.76 L294.73 281.80 L295.64 281.84 L296.54 281.88 L297.45 281.91 L298.36 281.95 L299.26 281.98 L300.17 282.01 L301.08 282.04 L301.99 282.07 L302.89 282.10 L303.80 282.12 L304.71 282.15 L305.61 282.17 L306.52 282.20 L307.43 282.22 L308.34 282.24 L309.24 282.26 L310.15 282.28 L311.06 282.30 L311.97 282.32 L312.87 282.34 L313.78 282.35 L314.69 282.37 L315.59 282.39 L316.50 282.40 L317.41 282.42 L318.32 282.43 L319.22 282.45 L320.13 282.46 L321.04 282.48 L321.94 282.50 L322.85 282.52 L323.76 282.55 L324.67 282.58 L325.57 282.61 L326.48 282.64 L327.39 282.68 L328.29 282.72 L329.20 282.75 L330.11 282.79 L331.02 282.83 L331.92 282.87 L332.83 282.90 L333.74 282.94 L334.64 282.97 L335.55 283.00 L336.46 283.03 L337.37 283.05 L338.27 283.07 L339.18 283.09 L340.09 283.10 L341.00 283.11 L341.90 283.12 L342.81 283.13 L343.72 283.14 L344.62 283.14 L345.53 283.15 L346.44 283.16 L347.35 283.17 L348.25 283.17 L349.16 283.18 L350.07 283.19 L350.97 283.20 L351.88 283.20 L352.79 283.21 L353.70 283.21 L354.60 283.22 L355.51 283.22 L356.42 283.23 L357.32 283.24 L358.23 283.24 L359.14 283.24 L360.05 283.25 L360.95 283.25 L361.86 283.26 L362.77 283.26 L363.68 283.27 L364.58 283.27 L365.49 283.27 L366.40 283.28 L367.30 283.28 L368.21 283.28 L369.12 283.28 L370.03 283.29 L370.93 283.29 L371.84 283.29 L372.75 283.29 L373.65 283.29 L374.56 283.29 L375.47 283.29 L376.38 283.29 L377.28 283.29 L378.19 283.29 L379.10 283.29 L380.00 283.29 L380.91 283.29 L381.82 283.29 L382.73 283.29 L383.63 283.30 L384.54 283.30 L385.45 283.30 L386.35 283.31 L387.26 283.31 L388.17 283.32 L389.08 283.32 L389.98 283.33 L390.89 283.33 L391.80 283.34 L392.71 283.34 L393.61 283.35 L394.52 283.35 L395.43 283.35 L396.33 283.36 L397.24 283.36 L398.15 283.36 L399.06 283.36 L399.96 283.36 L400.87 283.36 L401.78 283.36 L402.68 283.37 L403.59 283.37 L404.50 283.38 L405.41 283.38 L406.31 283.39 L407.22 283.40 L408.13 283.41 L409.03 283.42 L409.94 283.43 L410.85 283.44 L411.76 283.45 L412.66 283.46 L413.57 283.47 L414.48 283.48 L415.38 283.49 L416.29 283.50 L417.20 283.51 L418.11 283.51 L419.01 283.51 L419.92 283.52 L420.83 283.52 L421.74 283.52 L422.64 283.53 L423.55 283.53 L424.46 283.54 L425.36 283.55 L426.27 283.55 L427.18 283.56 L428.09 283.57 L428.99 283.57 L429.90 283.58" stroke="#00a600" stroke-width="2.5"/>
<path d="M43.30 283.30 L43.58 279.98 L43.86 276.71 L44.14 273.52 L44.42 270.38 L44.70 267.30 L44.98 264.29 L45.26 261.33 L45.54 258.44 L45.82 255.60 L46.10 252.81 L46.38 250.09 L46.66 247.42 L46.94 244.80 L47.22 242.24 L47.50 239.73 L47.78 237.27 L48.06 234.86 L48.34 232.51 L48.62 230.20 L48.90 227.95 L49.18 225.74 L49.46 223.57 L49.74 221.46 L50.02 219.39 L50.30 217.36 L50.58 215.38 L50.85 213.44 L51.13 211.55 L51.41 209.70 L51.68 207.88 L51.96 206.11 L52.24 204.38 L52.51 202.69 L52.79 201.03 L53.07 199.42 L53.34 197.84 L53.62 196.29 L53.90 194.79 L54.17 193.31 L54.45 191.88 L54.73 190.47 L55.00 189.10 L55.28 187.76 L55.56 186.45 L55.84 185.18 L56.11 183.93 L56.39 182.72 L56.67 181.53 L56.96 180.38 L57.24 179.25 L57.52 178.15 L57.80 177.08 L58.09 176.04 L58.37 175.02 L58.65 174.03 L58.93 173.06 L59.22 172.12 L59.50 171.20 L59.78 170.31 L60.06 169.44 L60.35 168.59 L60.63 167.77 L60.91 166.97 L61.20 166.19 L61.48 165.43 L61.76 164.69 L62.04 163.98 L62.33 163.28 L62.61 162.61 L62.89 161.95 L63.17 161.31 L63.46 160.69 L63.74 160.09 L64.02 159.51 L64.30 158.95 L64.59 158.40 L64.87 157.87 L65.15 157.36 L65.43 156.86 L65.72 156.38 L66.00 155.92 L66.29 155.47 L66.58 155.03 L66.87 154.61 L67.17 154.21 L67.46 153.82 L67.75 153.44 L68.04 153.08 L68.33 152.73 L68.62 152.40 L68.91 152.08 L69.20 151.77 L69.50 151.47 L69.79 151.19 L70.08 150.91 L70.37 150.65 L70.66 150.40 L70.95 150.17 L71.24 149.94 L71.54 149.72 L71.83 149.52 L72.12 149.33 L72.41 149.14 L72.70 148.97 L72.99 148.81 L73.28 148.65 L73.57 148.51 L73.87 148.37 L74.16 148.25 L74.45 148.13 L74.74 148.02 L75.03 147.92 L75.32 147.83 L75.61 147.75 L75.91 147.68 L76.20 147.61 L76.49 147.56 L76.78 147.51 L77.07 147.46 L77.36 147.43 L77.65 147.40 L77.95 147.38 L78.24 147.37 L78.53 147.36 L78.82 147.36 L79.11 147.37 L79.40 147.38 L79.69 147.40 L79.98 147.43 L80.28 147.46 L80.57 147.50 L80.86 147.54 L81.15 147.59 L81.44 147.65 L81.73 147.71 L82.02 147.78 L82.32 147.85 L82.61 147.93 L82.90 148.01 L83.19 148.10 L83.48 148.19 L83.77 148.29 L84.06 148.39 L84.35 148.49 L84.65 148.61 L84.94 148.72 L85.23 148.84 L85.52 148.97 L85.81 149.09 L86.10 149.23 L86.39 149.36 L86.69 149.50 L86.98 149.65 L87.27 149.80 L87.56 149.95 L87.85 150.10 L88.14 150.26 L88.43 150.42 L88.73 150.59 L89.02 150.76 L89.31 150.93 L89.60 151.11 L89.89 151.29 L90.18 151.47 L90.47 151.65 L90.76 151.84 L91.06 152.03 L91.35 152.22 L91.64 152.42 L91.93 152.62 L92.22 152.82 L92.51 153.02 L92.80 153.23 L93.10 153.44 L93.39 153.65 L93.68 153.86 L93.97 154.08 L94.26 154.30 L94.55 154.52 L94.84 154.74 L95.13 154.97 L95.43 155.19 L95.72 155.42 L96.01 155.65 L96.30 155.88 L96.59 156.12 L96.88 156.35 L97.17 156.59 L97.47 156.83 L97.76 157.07 L98.05 157.31 L98.34 157.56 L98.63 157.80 L98.92 158.05 L99.21 158.30 L99.51 158.55 L99.80 158.80 L100.09 159.05 L100.38 159.31 L100.67 159.56 L100.96 159.82 L101.25 160.07 L101.54 160.33 L101.84 160.59 L102.13 160.85 L102.42 161.12 L102.71 161.38 L103.00 161.64 L103.29 161.91 L103.58 162.17 L103.88 162.44 L104.17 162.71 L104.46 162.98 L104.75 163.24 L105.04 163.51 L105.33 163.79 L105.62 164.06 L105.92 164.33 L106.21 164.60 L106.50 164.88 L106.79 165.15 L107.08 165.42 L107.37 165.70 L107.66 165.98 L107.95 166.25 L108.25 166.53 L108.54 166.81 L108.83 167.08 L109.12 167.36 L109.41 167.64 L109.70 167.92 L109.99 168.20 L110.29 168.48 L110.58 168.76 L110.87 169.04 L111.16 169.32 L111.45 169.60 L111.74 169.88 L112.03 170.17 L112.32 170.45 L112.62 170.73 L112.91 171.01 L113.20 171.29 L113.49 171.58 L113.78 171.86 L114.07 172.14 L114.36 172.42 L114.66 172.71 L114.95 172.99 L115.24 173.27 L115.53 173.56 L115.82 173.84 L116.11 174.12 L116.40 174.41 L116.70 174.69 L116.99 174.97 L117.28 175.26 L117.57 175.54 L117.86 175.82 L118.15 176.10 L118.44 176.39 L118.73 176.67 L119.03 176.95 L119.32 177.24 L119.61 177.52 L119.90 177.80 L120.19 178.08 L120.48 178.36 L120.77 178.65 L121.07 178.93 L121.36 179.21 L121.65 179.49 L121.94 179.77 L122.23 180.05 L122.52 180.33 L122.81 180.61 L123.10 180.89 L123.40 181.17 L123.69 181.45 L123.98 181.73 L124.27 182.01 L124.56 182.29 L124.85 182.57 L125.14 182.85 L125.44 183.13 L125.73 183.40 L126.02 183.68 L126.31 183.96 L126.60 184.23 L126.89 184.51 L127.18 184.79 L127.48 185.06 L127.77 185.34 L128.06 185.61 L128.35 185.89 L128.64 186.16 L128.93 186.44 L129.22 186.71 L129.51 186.98 L129.81 187.26 L130.10 187.53 L130.39 187.80 L130.68 188.07 L130.97 188.34 L131.26 188.61 L131.55 188.88 L131.85 189.15 L132.14 189.42 L132.43 189.69 L132.72 189.96 L133.01 190.23 L133.30 190.50 L133.59 190.77 L133.88 191.03 L134.18 191.30 L134.47 191.56 L134.76 191.83 L135.05 192.10 L135.34 192.36 L135.63 192.62 L135.92 192.89 L136.22 193.15 L136.51 193.41 L136.80 193.67 L137.09 193.93 L137.38 194.19 L137.67 194.45 L137.96 194.70 L138.26 194.96 L138.55 195.21 L138.84 195.47 L139.13 195.72 L139.42 195.98 L139.71 196.23 L140.00 196.48 L140.29 196.73 L140.59 196.98 L140.88 197.23 L141.17 197.48 L141.46 197.73 L141.75 197.98 L142.04 198.22 L142.33 198.47 L142.63 198.71 L142.92 198.96 L143.21 199.20 L143.50 199.45 L143.79 199.69 L144.08 199.93 L144.37 200.17 L144.67 200.41 L144.96 200.65 L145.25 200.89 L145.54 201.13 L145.83 201.37 L146.12 201.61 L146.41 201.85 L146.70 202.08 L147.00 202.32 L147.29 202.56 L147.58 202.79 L147.87 203.03 L148.16 203.26 L148.45 203.49 L148.74 203.73 L149.04 203.96 L149.33 204.19 L149.62 204.42 L149.91 204.66 L150.20 204.89 L150.49 205.12 L150.78 205.35 L151.07 205.58 L151.37 205.81 L151.66 206.04 L151.95 206.27 L152.24 206.49 L152.53 206.72 L152.82 206.95 L153.11 207.18 L153.41 207.40 L153.70 207.63 L153.99 207.86 L154.28 208.08 L154.57 208.31 L154.86 208.53 L155.15 208.76 L155.45 208.98 L155.74 209.21 L156.03 209.43 L156.32 209.66 L156.61 209.88 L156.90 210.10 L157.19 210.33 L157.48 210.55 L157.78 210.77 L158.07 211.00 L158.36 211.22 L158.65 211.44 L159.56 212.14 L160.46 212.83 L161.37 213.51 L162.28 214.20 L163.19 214.87 L164.09 215.55 L165.00 216.21 L165.91 216.88 L166.81 217.54 L167.72 218.19 L168.63 218.84 L169.54 219.49 L170.44 220.13 L171.35 220.77 L172.26 221.40 L173.17 222.03 L174.07 222.65 L174.98 223.27 L175.89 223.89 L176.79 224.50 L177.70 225.10 L178.61 225.71 L179.52 226.30 L180.42 226.89 L181.33 227.48 L182.24 228.07 L183.14 228.65 L184.05 229.22 L184.96 229.79 L185.87 230.36 L186.77 230.92 L187.68 231.48 L188.59 232.04 L189.49 232.60 L190.40 233.15 L191.31 233.70 L192.22 234.25 L193.12 234.79 L194.03 235.33 L194.94 235.87 L195.84 236.40 L196.75 236.92 L197.66 237.45 L198.57 237.96 L199.47 238.48 L200.38 238.99 L201.29 239.49 L202.20 239.99 L203.10 240.48 L204.01 240.97 L204.92 241.45 L205.82 241.92 L206.73 242.39 L207.64 242.85 L208.55 243.31 L209.45 243.76 L210.36 244.20 L211.27 244.64 L212.17 245.08 L213.08 245.51 L213.99 245.93 L214.90 246.35 L215.80 246.77 L216.71 247.18 L217.62 247.59 L218.52 248.00 L219.43 248.40 L220.34 248.80 L221.25 249.19 L222.15 249.58 L223.06 249.97 L223.97 250.35 L224.87 250.72 L225.78 251.10 L226.69 251.47 L227.60 251.83 L228.50 252.20 L229.41 252.55 L230.32 252.91 L231.23 253.26 L232.13 253.61 L233.04 253.95 L233.95 254.29 L234.85 254.62 L235.76 254.96 L236.67 255.29 L237.58 255.61 L238.48 255.93 L239.39 256.25 L240.30 256.56 L241.20 256.87 L242.11 257.17 L243.02 257.47 L243.93 257.76 L244.83 258.05 L245.74 258.33 L246.65 258.60 L247.55 258.87 L248.46 259.14 L249.37 259.40 L250.28 259.66 L251.18 259.91 L252.09 260.16 L253.00 260.41 L253.91 260.65 L254.81 260.89 L255.72 261.13 L256.63 261.36 L257.53 261.59 L258.44 261.82 L259.35 262.04 L260.26 262.27 L261.16 262.49 L262.07 262.71 L262.98 262.93 L263.88 263.15 L264.79 263.36 L265.70 263.58 L266.61 263.79 L267.51 264.01 L268.42 264.22 L269.33 264.43 L270.23 264.65 L271.14 264.86 L272.05 265.07 L272.96 265.28 L273.86 265.48 L274.77 265.69 L275.68 265.89 L276.58 266.08 L277.49 266.28 L278.40 266.47 L279.31 266.66 L280.21 266.85 L281.12 267.04 L282.03 267.22 L282.94 267.41 L283.84 267.59 L284.75 267.77 L285.66 267.94 L286.56 268.12 L287.47 268.29 L288.38 268.46 L289.29 268.63 L290.19 268.80 L291.10 268.96 L292.01 269.13 L292.91 269.29 L293.82 269.45 L294.73 269.61 L295.64 269.76 L296.54 269.92 L297.45 270.07 L298.36 270.22 L299.26 270.37 L300.17 270.52 L301.08 270.67 L301.99 270.82 L302.89 270.96 L303.80 271.10 L304.71 271.25 L305.61 271.39 L306.52 271.53 L307.43 271.66 L308.34 271.80 L309.24 271.94 L310.15 272.07 L311.06 272.21 L311.97 272.34 L312.87 272.47 L313.78 272.60 L314.69 272.73 L315.59 272.86 L316.50 272.98 L317.41 273.11 L318.32 273.23 L319.22 273.36 L320.13 273.48 L321.04 273.60 L321.94 273.72 L322.85 273.84 L323.76 273.96 L324.67 274.08 L325.57 274.19 L326.48 274.31 L327.39 274.42 L328.29 274.54 L329.20 274.65 L330.11 274.76 L331.02 274.87 L331.92 274.98 L332.83 275.09 L333.74 275.20 L334.64 275.30 L335.55 275.41 L336.46 275.51 L337.37 275.62 L338.27 275.72 L339.18 275.82 L340.09 275.92 L341.00 276.03 L341.90 276.12 L342.81 276.22 L343.72 276.32 L344.62 276.42 L345.53 276.51 L346.44 276.61 L347.35 276.70 L348.25 276.80 L349.16 276.89 L350.07 276.98 L350.97 277.07 L351.88 277.17 L352.79 277.26 L353.70 277.34 L354.60 277.43 L355.51 277.52 L356.42 277.61 L357.32 277.69 L358.23 277.78 L359.14 277.87 L360.05 277.95 L360.95 278.03 L361.86 278.12 L362.77 278.20 L363.68 278.28 L364.58 278.36 L365.49 278.45 L366.40 278.53 L367.30 278.61 L368.21 278.69 L369.12 278.76 L370.03 278.84 L370.93 278.92 L371.84 279.00 L372.75 279.08 L373.65 279.15 L374.56 279.23 L375.47 279.30 L376.38 279.38 L377.28 279.45 L378.19 279.53 L379.10 279.60 L380.00 279.67 L380.91 279.75 L381.82 279.82 L382.73 279.90 L383.63 279.97 L384.54 280.05 L385.45 280.12 L386.35 280.20 L387.26 280.28 L388.17 280.35 L389.08 280.43 L389.98 280.51 L390.89 280.58 L391.80 280.66 L392.71 280.74 L393.61 280.81 L394.52 280.89 L395.43 280.96 L396.33 281.04 L397.24 281.11 L398.15 281.19 L399.06 281.26 L399.96 281.33 L400.87 281.41 L401.78 281.48 L402.68 281.55 L403.59 281.63 L404.50 281.70 L405.41 281.77 L406.31 281.84 L407.22 281.92 L408.13 281.99 L409.03 282.06 L409.94 282.13 L410.85 282.21 L411.76 282.28 L412.66 282.35 L413.57 282.42 L414.48 282.49 L415.38 282.56 L416.29 282.63 L417.20 282.69 L418.11 282.76 L419.01 282.83 L419.92 282.89 L420.83 282.96 L421.74 283.02 L422.64 283.08 L423.55 283.15 L424.46 283.21 L425.36 283.27 L426.27 283.33 L427.18 283.40 L428.09 283.46 L428.99 283.52 L429.90 283.57" stroke="#0000ff" stroke-width="2.5"/>
</g>
<g class="tk"><text x="43.0" y="324.4" text-anchor="middle" textLength="19.3" lengthAdjust="spacingAndGlyphs">0.0</text><text x="120.5" y="324.4" text-anchor="middle" textLength="19.3" lengthAdjust="spacingAndGlyphs">0.2</text><text x="198.0" y="324.4" text-anchor="middle" textLength="19.3" lengthAdjust="spacingAndGlyphs">0.4</text><text x="275.4" y="324.4" text-anchor="middle" textLength="19.3" lengthAdjust="spacingAndGlyphs">0.6</text><text x="352.9" y="324.4" text-anchor="middle" textLength="19.3" lengthAdjust="spacingAndGlyphs">0.8</text><text x="430.4" y="324.4" text-anchor="middle" textLength="19.3" lengthAdjust="spacingAndGlyphs">1.0</text><text x="40.7" y="288.6" text-anchor="end">0</text><text x="40.7" y="242.9" text-anchor="end">1</text><text x="40.7" y="197.3" text-anchor="end">2</text><text x="40.7" y="151.6" text-anchor="end">3</text><text x="40.7" y="105.9" text-anchor="end">4</text><text x="40.7" y="60.2" text-anchor="end">5</text><text x="40.7" y="14.6" text-anchor="end">6</text></g>
<line x1="259.8" x2="276.6" y1="28.0" y2="28.0" stroke="#ff0000" stroke-width="1.4"/>
<line x1="260.2" x2="276.6" y1="61.9" y2="61.9" stroke="#ff0000" stroke-width="1.4" stroke-dasharray="1 2.8"/>
<line x1="259.8" x2="276.6" y1="95.4" y2="95.4" stroke="#00a600" stroke-width="1.4"/>
<line x1="259.8" x2="276.6" y1="128.4" y2="128.4" stroke="#0000ff" stroke-width="1.4"/>
<text transform="translate(281.92 31.10) scale(1.201 1)" font-size="20.3" font-style="italic" fill="#111" stroke="#fff" stroke-width="0.292">m</text>
<text transform="translate(300.34 34.16) scale(0.1760 0.1414)" font-size="100.0" font-style="italic" fill="#111" stroke="#fff" stroke-width="0.951">B</text>
<text transform="translate(311.13 31.58) scale(0.2258 0.2030)" font-size="100.0" font-style="italic" fill="#111" stroke="#fff" stroke-width="1.495">φ</text>
<text transform="translate(323.97 36.22) scale(0.2063 0.1632)" font-size="100.0" fill="#111" stroke="#fff" stroke-width="0.818">+</text>
<text transform="translate(337.21 31.39) scale(0.1791 0.2261)" font-size="100.0" fill="#111" stroke="#fff" stroke-width="1.590">(</text>
<text transform="translate(343.51 31.10) scale(1.273 1)" font-size="20.3" font-style="italic" fill="#111" stroke="#fff" stroke-width="0.284">u</text>
<text transform="translate(355.70 31.10) scale(1.231 1)" font-size="20.3" font-style="italic" fill="#111" stroke="#fff" stroke-width="0.288">m</text>
<text transform="translate(374.13 34.16) scale(0.1881 0.1414)" font-size="100.0" font-style="italic" fill="#111" stroke="#fff" stroke-width="0.920">B</text>
<text transform="translate(385.86 31.10) scale(0.890 1)" font-size="20.3" fill="#111" stroke="#fff" stroke-width="0.339">;</text>
<text transform="translate(394.32 31.10) scale(1.196 1)" font-size="20.3" font-style="italic" fill="#111" stroke="#fff" stroke-width="0.293">μ</text>
<text transform="translate(406.61 34.17) scale(0.1586 0.1351)" font-size="100.0" font-style="italic" fill="#111" stroke="#fff" stroke-width="1.024">s</text>
<text transform="translate(413.02 31.39) scale(0.1791 0.2261)" font-size="100.0" fill="#111" stroke="#fff" stroke-width="1.590">)</text>
<text transform="translate(281.92 65.40) scale(1.201 1)" font-size="20.3" font-style="italic" fill="#111" stroke="#fff" stroke-width="0.292">m</text>
<text transform="translate(300.34 68.46) scale(0.1760 0.1414)" font-size="100.0" font-style="italic" fill="#111" stroke="#fff" stroke-width="0.951">B</text>
<text transform="translate(311.13 65.88) scale(0.2258 0.2030)" font-size="100.0" font-style="italic" fill="#111" stroke="#fff" stroke-width="1.495">φ</text>
<text transform="translate(323.97 70.52) scale(0.2063 0.1632)" font-size="100.0" fill="#111" stroke="#fff" stroke-width="0.818">+</text>
<text transform="translate(337.21 65.69) scale(0.1791 0.2261)" font-size="100.0" fill="#111" stroke="#fff" stroke-width="1.590">(</text>
<text transform="translate(343.51 65.40) scale(1.273 1)" font-size="20.3" font-style="italic" fill="#111" stroke="#fff" stroke-width="0.284">u</text>
<text transform="translate(355.70 65.40) scale(1.231 1)" font-size="20.3" font-style="italic" fill="#111" stroke="#fff" stroke-width="0.288">m</text>
<text transform="translate(374.13 68.46) scale(0.1881 0.1414)" font-size="100.0" font-style="italic" fill="#111" stroke="#fff" stroke-width="0.920">B</text>
<text transform="translate(385.86 65.40) scale(0.890 1)" font-size="20.3" fill="#111" stroke="#fff" stroke-width="0.339">;</text>
<text transform="translate(394.32 65.40) scale(1.196 1)" font-size="20.3" font-style="italic" fill="#111" stroke="#fff" stroke-width="0.293">μ</text>
<text transform="translate(406.33 68.46) scale(0.1271 0.1450)" font-size="100.0" font-style="italic" fill="#111" stroke="#fff" stroke-width="1.105">b</text>
<text transform="translate(413.02 65.69) scale(0.1791 0.2261)" font-size="100.0" fill="#111" stroke="#fff" stroke-width="1.590">)</text>
<text transform="translate(281.98 98.70) scale(0.2271 0.1974)" font-size="100.0" font-style="italic" fill="#111" stroke="#fff" stroke-width="1.511">ϕ</text>
<text transform="translate(294.23 100.29) scale(0.1752 0.2261)" font-size="100.0" fill="#111" stroke="#fff" stroke-width="1.608">(</text>
<text transform="translate(299.39 100.00) scale(1.297 1)" font-size="20.3" font-style="italic" fill="#111" stroke="#fff" stroke-width="0.281">u</text>
<text transform="translate(312.26 100.00) scale(0.890 1)" font-size="20.3" fill="#111" stroke="#fff" stroke-width="0.339">;</text>
<text transform="translate(322.32 100.00) scale(1.185 1)" font-size="20.3" font-style="italic" fill="#111" stroke="#fff" stroke-width="0.294">μ</text>
<text transform="translate(334.31 102.06) scale(0.1318 0.1450)" font-size="100.0" font-style="italic" fill="#111" stroke="#fff" stroke-width="1.085">b</text>
<text transform="translate(341.04 100.29) scale(0.1752 0.2261)" font-size="100.0" fill="#111" stroke="#fff" stroke-width="1.608">)</text>
<text transform="translate(281.98 131.40) scale(0.2271 0.1974)" font-size="100.0" font-style="italic" fill="#111" stroke="#fff" stroke-width="1.511">ϕ</text>
<text transform="translate(294.23 132.99) scale(0.1752 0.2261)" font-size="100.0" fill="#111" stroke="#fff" stroke-width="1.608">(</text>
<text transform="translate(299.39 132.70) scale(1.297 1)" font-size="20.3" font-style="italic" fill="#111" stroke="#fff" stroke-width="0.281">u</text>
<text transform="translate(312.26 132.70) scale(0.890 1)" font-size="20.3" fill="#111" stroke="#fff" stroke-width="0.339">;</text>
<text transform="translate(320.92 132.70) scale(1.201 1)" font-size="20.3" font-style="italic" fill="#111" stroke="#fff" stroke-width="0.292">m</text>
<text transform="translate(337.44 135.47) scale(0.1756 0.1523)" font-size="100.0" font-style="italic" fill="#111" stroke="#fff" stroke-width="0.917">W</text>
<text transform="translate(355.31 132.99) scale(0.1830 0.2261)" font-size="100.0" fill="#111" stroke="#fff" stroke-width="1.573">)</text>
<text transform="translate(156.16 31.94) scale(0.2623 0.2144)" font-size="100.0" font-style="italic" fill="#111" stroke="#fff" stroke-width="0.843">B</text>
<line x1="161.8" x2="168.4" y1="13.3" y2="13.3" stroke="#111" stroke-width="0.9"/>
<text x="180.2" y="32.0" font-size="21.5" textLength="60.5" lengthAdjust="spacingAndGlyphs" fill="#111" stroke="#fff" stroke-width="0.15">meson</text>
<text transform="translate(230.03 351.56) scale(0.2560 0.2040)" font-size="100.0" font-style="italic" fill="#111" stroke="#fff" stroke-width="1.400">u</text>
<g transform="translate(19.0 173.4) rotate(-90)"><text transform="translate(-0.54 -0.47) scale(0.2356 0.2007)" font-size="100.0" font-style="italic" fill="#111" stroke="#fff" stroke-width="1.472">ϕ</text><text transform="translate(12.23 0.49) scale(0.1752 0.2261)" font-size="100.0" fill="#111" stroke="#fff" stroke-width="1.608">(</text><text transform="translate(18.61 -0.04) scale(0.2391 0.2082)" font-size="100.0" font-style="italic" fill="#111" stroke="#fff" stroke-width="1.434">u</text><text transform="translate(31.42 0.49) scale(0.1791 0.2261)" font-size="100.0" fill="#111" stroke="#fff" stroke-width="1.590">)</text></g>
</svg>
</body></html>
